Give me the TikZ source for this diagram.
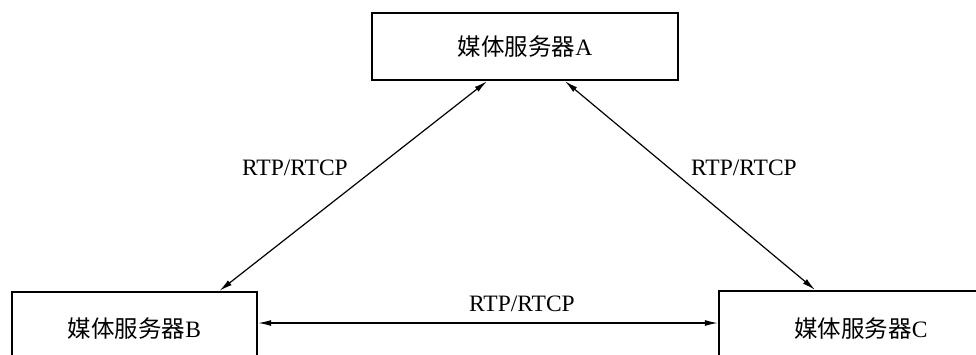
\documentclass[tikz,border=0pt]{standalone}
\usepackage{fontspec}
\setmainfont{Liberation Serif}
\newfontfamily\cjk{Noto Sans CJK SC}
\usetikzlibrary{arrows.meta}
\begin{document}
\begin{tikzpicture}[x=1pt,y=-1pt,
  srv/.style={draw, line width=2.4pt, inner sep=0pt, font=\fontsize{23.5}{28}\selectfont},
  lbl/.style={inner sep=0pt, font=\fontsize{23.5}{28}\selectfont},
  conn/.style={line width=1.2pt, {Latex[length=13pt,width=6pt]}-{Latex[length=13pt,width=6pt]}}]
\useasboundingbox[fill=white] (0,0) rectangle (976,354);
\node[srv, minimum width=306pt, minimum height=67pt] (A) at (525,46.5) {{\cjk 媒体服务器}A};
\node[srv, minimum width=245pt, minimum height=74pt] (B) at (134.5,329) {{\cjk 媒体服务器}B};
\node[srv, minimum width=284pt, minimum height=75pt] (C) at (861,328.5) {{\cjk 媒体服务器}C};
\draw[conn] ([xshift=-38pt]A.south) -- ([xshift=85pt]B.north);
\draw[conn] ([xshift=40pt]A.south) -- ([xshift=-46pt]C.north);
\draw[conn] ([yshift=6pt]B.east) -- ([yshift=5.5pt]C.west);
\node[lbl] (l1) at (295,168) {RTP/RTCP};
\node[lbl] (l2) at (744,168) {RTP/RTCP};
\node[lbl] (l3) at (522,304) {RTP/RTCP};
\end{tikzpicture}
\end{document}
